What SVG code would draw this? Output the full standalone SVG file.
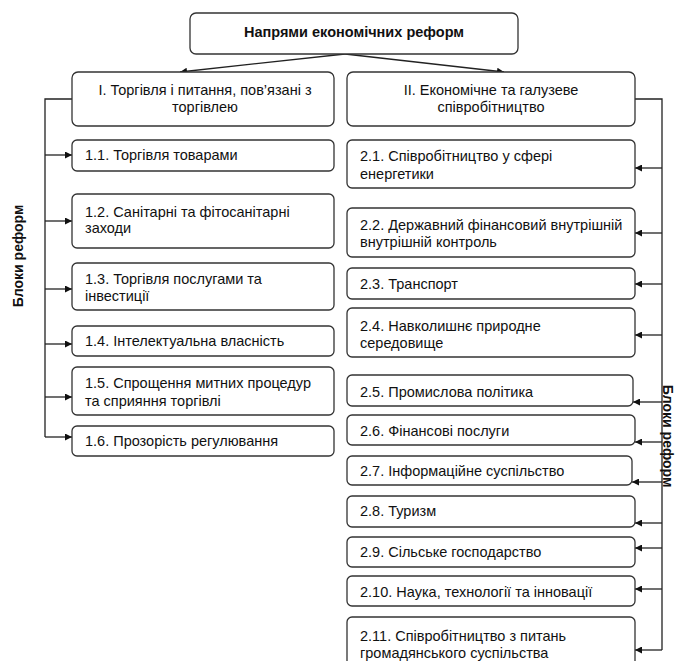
<svg xmlns="http://www.w3.org/2000/svg" width="675" height="661" viewBox="0 0 675 661">
<defs>
<style>
.b{fill:#fff;stroke:#333;stroke-width:1.3}
.t{font-family:"Liberation Sans",Arial,sans-serif;font-size:14.5px;fill:#111}
.c{text-anchor:middle}
.bd{font-weight:bold}
.s{font-size:14px}
.l{fill:none;stroke:#222;stroke-width:1.3}
</style>
<marker id="ah" viewBox="0 0 10 10" refX="10" refY="5" markerWidth="7" markerHeight="7" markerUnits="userSpaceOnUse" orient="auto"><path d="M0,0L10,5L0,10z" fill="#111"/></marker>
</defs>
<rect width="675" height="661" fill="#fff"/>
<g id="connectors">
<path class="l" d="M345,54L180,72" marker-end="url(#ah)"/>
<path class="l" d="M345,54L504,72" marker-end="url(#ah)"/>
<path class="l" d="M72,99H45V437"/>
<path class="l" d="M45,155H72" marker-end="url(#ah)"/>
<path class="l" d="M45,221H72" marker-end="url(#ah)"/>
<path class="l" d="M45,289H72" marker-end="url(#ah)"/>
<path class="l" d="M45,344H72" marker-end="url(#ah)"/>
<path class="l" d="M45,397H72" marker-end="url(#ah)"/>
<path class="l" d="M45,437H72" marker-end="url(#ah)"/>
<path class="l" d="M635,99H662V650"/>
<path class="l" d="M662,168H635" marker-end="url(#ah)"/>
<path class="l" d="M662,233H635" marker-end="url(#ah)"/>
<path class="l" d="M662,284H635" marker-end="url(#ah)"/>
<path class="l" d="M662,335H635" marker-end="url(#ah)"/>
<path class="l" d="M662,402H633" marker-end="url(#ah)"/>
<path class="l" d="M662,442H635" marker-end="url(#ah)"/>
<path class="l" d="M662,482H632" marker-end="url(#ah)"/>
<path class="l" d="M662,523H635" marker-end="url(#ah)"/>
<path class="l" d="M662,548H635" marker-end="url(#ah)"/>
<path class="l" d="M662,589H635" marker-end="url(#ah)"/>
<path class="l" d="M662,650H635" marker-end="url(#ah)"/>
</g>
<g id="top"><rect class="b" x="190" y="13" width="328" height="41" rx="6"/><text class="t c bd" x="354" y="37">Напрями економічних реформ</text></g>
<g id="b1"><rect class="b" x="72" y="72" width="262" height="54" rx="6"/><text class="t c" x="205" y="95">І. Торгівля і питання, пов’язані з</text><text class="t c" x="205" y="112">торгівлею</text></g>
<g id="b2"><rect class="b" x="347" y="72" width="288" height="54" rx="6"/><text class="t c" x="491" y="95">ІІ. Економічне та галузеве</text><text class="t c" x="491" y="112">співробітництво</text></g>
<g id="n11"><rect class="b" x="72" y="140" width="262" height="31" rx="5"/><text class="t" x="85" y="160">1.1. Торгівля товарами</text></g>
<g id="n12"><rect class="b" x="72" y="194" width="262" height="54" rx="5"/><text class="t" x="85" y="217">1.2. Санітарні та фітосанітарні</text><text class="t" x="85" y="233">заходи</text></g>
<g id="n13"><rect class="b" x="72" y="263" width="262" height="47" rx="5"/><text class="t" x="85" y="284">1.3. Торгівля послугами та</text><text class="t" x="85" y="301">інвестиції</text></g>
<g id="n14"><rect class="b" x="72" y="326" width="262" height="30" rx="5"/><text class="t" x="85" y="346">1.4. Інтелектуальна власність</text></g>
<g id="n15"><rect class="b" x="72" y="367" width="262" height="48" rx="5"/><text class="t" x="85" y="388">1.5. Спрощення митних процедур</text><text class="t" x="85" y="406">та сприяння торгівлі</text></g>
<g id="n16"><rect class="b" x="72" y="426" width="262" height="30" rx="5"/><text class="t" x="85" y="446">1.6. Прозорість регулювання</text></g>
<g id="n21"><rect class="b" x="347" y="140" width="288" height="48" rx="5"/><text class="t" x="360" y="161">2.1. Співробітництво у сфері</text><text class="t" x="360" y="179">енергетики</text></g>
<g id="n22"><rect class="b" x="347" y="208" width="288" height="49" rx="5"/><text class="t" x="360" y="230">2.2. Державний фінансовий внутрішній</text><text class="t" x="360" y="247">внутрішній контроль</text></g>
<g id="n23"><rect class="b" x="347" y="268" width="288" height="31" rx="5"/><text class="t" x="360" y="289">2.3. Транспорт</text></g>
<g id="n24"><rect class="b" x="347" y="308" width="288" height="49" rx="5"/><text class="t" x="360" y="331">2.4. Навколишнє природне</text><text class="t" x="360" y="348">середовище</text></g>
<g id="n25"><rect class="b" x="347" y="375" width="286" height="31" rx="5"/><text class="t" x="360" y="397">2.5. Промислова політика</text></g>
<g id="n26"><rect class="b" x="347" y="415" width="288" height="30" rx="5"/><text class="t" x="360" y="436">2.6. Фінансові послуги</text></g>
<g id="n27"><rect class="b" x="347" y="456" width="285" height="29" rx="5"/><text class="t" x="360" y="476">2.7. Інформаційне суспільство</text></g>
<g id="n28"><rect class="b" x="347" y="496" width="288" height="31" rx="5"/><text class="t" x="360" y="516">2.8. Туризм</text></g>
<g id="n29"><rect class="b" x="347" y="537" width="288" height="30" rx="5"/><text class="t" x="360" y="557">2.9. Сільське господарство</text></g>
<g id="n210"><rect class="b" x="347" y="576" width="288" height="30" rx="5"/><text class="t" x="360" y="597">2.10. Наука, технології та інновації</text></g>
<g id="n211"><rect class="b" x="347" y="617" width="288" height="50" rx="5"/><text class="t" x="360" y="641">2.11. Співробітництво з питань</text><text class="t" x="360" y="658">громадянського суспільства</text></g>
<text class="t c bd s" transform="translate(23,256) rotate(-90)">Блоки реформ</text>
<text class="t c bd s" transform="translate(663,436) rotate(90)">Блоки реформ</text>
</svg>
